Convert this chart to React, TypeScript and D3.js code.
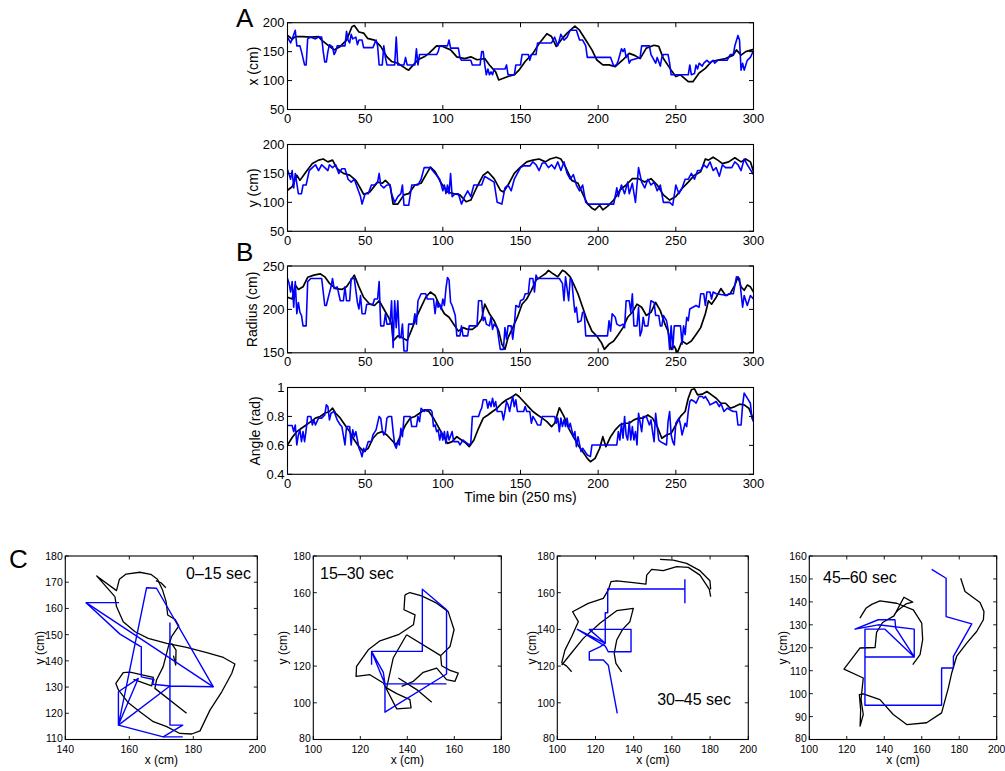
import React from "react";
import * as d3 from "d3";

type P = [number, number];

// ---------- tick values ----------
const TIME_TICKS = [0, 50, 100, 150, 200, 250, 300];
const X_TICKS = [50, 100, 150, 200];
const Y_TICKS = [50, 100, 150, 200];
const RADIUS_TICKS = [150, 200, 250];
const ANGLE_TICKS = [0.4, 0.6, 0.8, 1];

// ---------- panel A: x (cm) ----------
const xBlack: P[] = [[0,178],[1.5,175],[3,171],[5,176],[10,176],[15,175],[20,176],[22,170],[27,159],[30,153],[34,159],[38,170],[41.5,193],[43,195],[46,184],[49,182],[51.5,173],[56,170],[60,159],[64,141],[67,133],[71,130],[76,121],[78,118],[80,124],[84,136],[88,141],[91,147],[96,160],[100,159],[105,153],[109,141],[114,138],[118,141],[122,136],[127,138],[130,127],[134,115],[136,101],[139,104],[142,107],[146,110],[149,118],[153,133],[158,147],[162,164],[167,181],[170,176],[173,159],[177,173],[180,182],[185,194],[188,187],[192,170],[196,153],[199,136],[203,127],[207,127],[211,124],[216,136],[220,147],[223,144],[227,138],[231,156],[236,161],[239,159],[242,138],[247,118],[250,107],[253,110],[258,98],[261,98],[265,113],[269,121],[273,133],[278,136],[282,138],[287,144],[289,153],[292,144],[295,150],[300,154]];
const xBlue: P[] = [[0,175],[2,165],[3,172],[5,187],[6,160],[8,160],[9,150],[11,127],[12,127],[13,172],[15,175],[18,172],[20,175],[22,175],[23,150],[24,132],[25,132],[26,150],[27,162],[29,158],[30,145],[31,150],[32,160],[37,160],[38,185],[39,170],[40,165],[41,180],[42,172],[44,175],[45,162],[46,170],[48,170],[49,157],[55,157],[57,170],[58,160],[59,127],[61,127],[62,160],[63,140],[64,127],[69,127],[70,175],[71,127],[75,127],[76,140],[77,127],[82,127],[83,155],[84,127],[85,145],[96,145],[97,150],[98,160],[103,160],[104,170],[105,156],[110,156],[111,140],[112,135],[118,135],[119,127],[124,127],[125,150],[126,150],[127,127],[128,110],[129,120],[130,110],[131,115],[132,110],[133,120],[140,120],[141,127],[142,110],[146,110],[147,127],[150,127],[151,145],[155,145],[156,135],[157,145],[160,145],[161,165],[170,165],[172,175],[174,160],[176,180],[178,170],[180,175],[182,187],[186,187],[188,170],[190,170],[192,160],[193,140],[208,140],[210,125],[212,128],[213,135],[214,145],[215,155],[216,150],[217,155],[218,140],[219,145],[220,130],[221,135],[227,140],[228,160],[233,160],[234,145],[235,140],[237,130],[238,140],[240,125],[241,140],[242,145],[245,145],[246,130],[247,110],[258,110],[259,127],[260,110],[262,112],[263,127],[264,120],[265,130],[267,125],[268,130],[270,135],[272,130],[274,135],[275,130],[277,135],[283,135],[285,145],[287,145],[288,160],[290,178],[291,170],[292,118],[293,130],[294,118],[296,135],[298,140],[300,152]];

// ---------- panel A: y (cm) ----------
const yBlack: P[] = [[0,121],[3,127],[6,147],[8,138],[12,153],[16,167],[20,173],[23,175],[26,170],[29,173],[32,158],[36,150],[40,147],[44,138],[47,124],[49,114],[53,118],[58,135],[61,133],[63,138],[66,130],[68,97],[71,97],[75,113],[78,115],[82,130],[86,133],[89,147],[92,161],[95,153],[99,133],[103,118],[107,115],[111,113],[115,101],[118,104],[122,127],[126,147],[129,153],[133,141],[137,121],[139,118],[142,130],[146,150],[150,161],[154,170],[158,173],[162,175],[166,170],[169,175],[173,178],[176,175],[179,161],[183,138],[187,133],[190,115],[193,98],[196,90],[198,87],[201,95],[203,87],[206,93],[210,104],[214,121],[218,130],[222,141],[226,141],[230,135],[234,141],[238,130],[242,113],[246,104],[250,110],[254,124],[258,135],[262,147],[266,153],[269,175],[271,173],[274,178],[277,173],[280,167],[284,170],[288,177],[292,170],[295,175],[298,170],[300,153]];
const yBlue: P[] = [[0,157],[2,140],[3,155],[4,125],[5,150],[7,115],[9,115],[10,130],[12,130],[14,155],[16,160],[18,165],[20,155],[22,165],[24,160],[26,155],[27,165],[29,160],[31,165],[33,150],[35,158],[37,158],[39,140],[41,135],[43,140],[45,125],[47,110],[48,97],[50,115],[52,115],[54,130],[56,130],[58,135],[59,150],[60,130],[62,125],[64,130],[66,130],[67,115],[69,100],[71,110],[73,115],[74,130],[75,95],[78,95],[80,130],[84,130],[86,140],[88,160],[92,160],[95,150],[98,140],[100,120],[101,130],[102,115],[103,130],[104,115],[105,150],[106,110],[108,115],[110,115],[112,97],[114,110],[116,120],[118,110],[120,130],[125,130],[127,145],[130,140],[133,135],[135,100],[138,97],[140,125],[142,130],[144,120],[146,140],[148,150],[150,160],[152,163],[156,163],[158,170],[160,165],[162,155],[164,168],[166,168],[168,160],[170,165],[172,158],[174,170],[176,155],[178,170],[180,150],[182,140],[184,148],[186,130],[188,120],[190,130],[192,100],[194,97],[210,97],[212,125],[213,110],[215,130],[217,115],[219,135],[220,115],[222,133],[224,100],[226,160],[228,135],[230,125],[232,140],[234,130],[236,135],[238,120],[240,130],[242,100],[246,100],[248,95],[250,130],[252,115],[254,125],[256,140],[258,140],[260,150],[262,140],[264,155],[266,155],[268,165],[270,160],[272,170],[274,155],[276,160],[278,145],[280,165],[282,160],[286,160],[288,170],[290,165],[292,155],[294,175],[296,165],[300,148]];

// ---------- panel B: radius (cm) ----------
const radiusBlack: P[] = [[0,214],[3,212],[5,228],[7,223],[10,226],[13,237],[17,239.5],[21,241],[24,237.5],[27,230],[31,224],[35,223],[38,226],[41,234],[43,239.5],[46,226],[49,214],[53,206],[56,204.5],[59,210],[62,200.5],[65,191],[67,183],[68,163.6],[71,169.5],[74,167.5],[77,164],[80,177],[83,191],[86,202.5],[89,214],[92,220],[95,216],[98,204.5],[101,195],[104,191],[107,183],[110,175],[113,179],[116,177],[119,177],[122,181],[125,189],[127,206],[130,195],[133,187],[136,175],[138,160],[140,154],[142,167.5],[145,179],[148,191],[151,206],[154,212],[157,222],[160,233.7],[163,237.5],[166,241],[168,245],[171,241],[174,237.5],[177,245],[179,243],[182,237.5],[184,230],[187,218],[190,202.5],[193,187],[196,175],[199,169.5],[202,162],[204,154],[207,160],[210,163.6],[213,171],[216,179],[219,191],[222,196.7],[225,206],[228,202.5],[231,193],[234,196.7],[237,208],[240,198.6],[243,183],[245,175],[247,154],[249,157.8],[251,150],[254,163.6],[257,160],[260,163.6],[263,171],[266,179],[269,195],[271,210],[273,206],[276,214],[279,224],[282,216],[285,218],[288,228],[290,237.5],[292,226],[294,222],[296,228],[298,226],[300,220]];
const radiusBlue: P[] = [[0,235.6],[1,230],[2,220],[3,232],[4,202.5],[5,232],[6,195],[7,208],[8,196.7],[9,193],[10,181],[12,181],[13,232],[15,235.6],[22,235.6],[24,204.5],[25,204.5],[26,212],[28,226],[29,235.6],[30,224],[32,226],[34,210],[36,210],[37,226],[38,210],[40,210],[41,235.6],[43,235.6],[44,222],[45,208],[46,200.5],[47,216],[48,195],[50,195],[51,206],[55,206],[56,212],[58,212],[59,232],[60,181],[62,181],[63,195],[64,183],[66,183],[67,210],[68,156],[69,210],[70,179],[71,210],[72,167.5],[73,167.5],[74,183],[75,152],[77,152],[78,183],[81,183],[82,195],[83,183],[84,210],[86,218],[89,218],[90,212],[94,212],[95,195],[96,210],[97,202.5],[98,206],[99,200],[100,212],[101,204.5],[102,224],[103,236.8],[104,233.7],[105,208],[106,204.5],[108,193],[109,169.5],[111,169.5],[112,181],[113,169.5],[116,169.5],[117,181],[122,181],[123,210],[125,210],[126,187],[127,191],[128,183],[130,181],[131,191],[132,177],[133,183],[135,179],[136,165.6],[137,154],[139,154],[140,179],[141,165.6],[142,181],[144,181],[145,165.6],[146,181],[147,204.5],[149,202.5],[150,210],[152,212],[153,218],[155,218],[156,235.6],[158,235.6],[159,220],[160,239.5],[161,235.6],[175,235.6],[177,230],[178,210],[179,237.5],[181,210],[182,235.6],[183,233.7],[184,214],[185,196.7],[186,202.5],[187,185],[189,187],[190,196.7],[191,196.7],[192,169.5],[206,169.5],[207,187],[208,175],[209,195],[211,191],[212,183],[214,181],[216,183],[217,179],[218,210],[220,210],[221,196.7],[222,218],[223,181],[225,181],[226,202.5],[227,169.5],[228,175],[229,191],[230,181],[232,181],[234,210],[236,208],[237,193],[239,193],[240,181],[241,181],[242,193],[244,187],[245,177],[246,154],[247,181],[248,154],[249,181],[253,181],[254,160],[255,181],[256,171],[257,191],[258,187],[259,200.5],[261,202.5],[263,204.5],[265,202.5],[266,218],[268,218],[269,204.5],[270,220],[272,220],[273,212],[274,220],[276,218],[283,216],[284,218],[287,218],[289,237.5],[291,235.6],[293,202.5],[294,216],[296,204.5],[298,216],[300,212]];

// ---------- panel B: angle (rad) ----------
const angleBlack: P[] = [[0,0.603],[3,0.654],[6,0.695],[9,0.718],[12,0.741],[15,0.764],[18,0.788],[21,0.8],[24,0.822],[27,0.834],[29,0.857],[31,0.822],[34,0.788],[37,0.741],[40,0.695],[43,0.637],[46,0.591],[49,0.557],[52,0.58],[55,0.649],[58,0.684],[61,0.695],[64,0.672],[67,0.637],[70,0.603],[73,0.672],[76,0.741],[79,0.788],[82,0.8],[85,0.822],[88,0.845],[91,0.834],[94,0.788],[97,0.73],[100,0.672],[103,0.614],[106,0.626],[109,0.66],[112,0.637],[115,0.614],[117,0.591],[120,0.637],[123,0.718],[126,0.788],[129,0.81],[132,0.834],[135,0.857],[138,0.891],[141,0.915],[143,0.926],[145,0.938],[147,0.954],[149,0.938],[152,0.903],[155,0.868],[158,0.834],[161,0.81],[164,0.788],[167,0.764],[170,0.73],[172,0.753],[175,0.86],[178,0.8],[181,0.718],[184,0.66],[187,0.603],[190,0.557],[193,0.51],[195,0.487],[198,0.51],[201,0.58],[203,0.66],[205,0.591],[208,0.66],[211,0.707],[214,0.741],[217,0.753],[220,0.753],[223,0.776],[226,0.788],[229,0.788],[232,0.81],[235,0.788],[238,0.73],[241,0.649],[244,0.672],[247,0.684],[250,0.741],[253,0.8],[256,0.834],[258,0.926],[260,0.984],[262,0.991],[264,0.949],[267,0.954],[270,0.972],[273,0.949],[276,0.926],[279,0.891],[282,0.891],[285,0.857],[288,0.868],[291,0.885],[294,0.88],[297,0.857],[300,0.776]];
const angleBlue: P[] = [[0,0.737],[3,0.737],[4,0.695],[5,0.741],[6,0.603],[7,0.672],[8,0.707],[9,0.626],[10,0.695],[11,0.626],[12,0.707],[13,0.8],[15,0.8],[16,0.741],[17,0.776],[18,0.741],[20,0.788],[22,0.788],[24,0.811],[25,0.88],[26,0.868],[27,0.776],[28,0.822],[30,0.834],[32,0.776],[34,0.741],[35,0.73],[37,0.603],[38,0.73],[40,0.73],[41,0.603],[42,0.707],[43,0.66],[44,0.695],[46,0.58],[47,0.557],[48,0.522],[49,0.58],[50,0.557],[52,0.626],[54,0.626],[55,0.672],[57,0.707],[59,0.8],[60,0.788],[61,0.707],[62,0.672],[63,0.695],[64,0.788],[65,0.8],[67,0.8],[68,0.695],[69,0.603],[70,0.58],[71,0.626],[72,0.603],[73,0.718],[74,0.66],[75,0.8],[79,0.8],[80,0.73],[83,0.73],[84,0.8],[85,0.764],[86,0.857],[88,0.834],[89,0.845],[92,0.845],[93,0.834],[94,0.73],[95,0.741],[96,0.695],[97,0.707],[98,0.637],[99,0.695],[100,0.637],[101,0.695],[102,0.614],[103,0.695],[104,0.637],[106,0.695],[107,0.626],[110,0.626],[111,0.603],[113,0.637],[117,0.603],[118,0.614],[119,0.8],[123,0.8],[124,0.834],[125,0.857],[126,0.915],[128,0.915],[129,0.857],[130,0.903],[131,0.868],[132,0.926],[133,0.868],[134,0.903],[135,0.834],[138,0.834],[139,0.776],[140,0.834],[141,0.903],[142,0.88],[143,0.834],[144,0.891],[145,0.938],[146,0.868],[147,0.915],[148,0.834],[152,0.834],[153,0.868],[154,0.834],[156,0.834],[157,0.753],[158,0.8],[160,0.764],[161,0.741],[163,0.741],[164,0.8],[172,0.8],[173,0.753],[174,0.788],[175,0.695],[176,0.788],[177,0.73],[178,0.776],[179,0.73],[180,0.788],[181,0.718],[182,0.753],[184,0.66],[185,0.695],[186,0.591],[187,0.66],[189,0.557],[190,0.58],[193,0.533],[195,0.522],[196,0.603],[212,0.603],[213,0.695],[214,0.637],[215,0.753],[216,0.649],[217,0.8],[218,0.672],[219,0.637],[220,0.764],[221,0.637],[222,0.73],[223,0.637],[224,0.695],[225,0.603],[226,0.822],[228,0.695],[229,0.8],[231,0.8],[233,0.741],[234,0.776],[235,0.695],[236,0.626],[237,0.822],[239,0.637],[240,0.626],[244,0.603],[245,0.764],[246,0.834],[247,0.672],[248,0.626],[249,0.603],[250,0.753],[252,0.788],[253,0.741],[254,0.672],[256,0.753],[257,0.73],[258,0.834],[259,0.903],[260,0.915],[262,0.903],[263,0.891],[265,0.938],[267,0.938],[268,0.926],[269,0.938],[271,0.903],[272,0.88],[274,0.891],[276,0.903],[278,0.868],[279,0.891],[281,0.834],[283,0.857],[285,0.845],[287,0.834],[289,0.834],[290,0.741],[292,0.741],[293,0.88],[294,0.961],[296,0.926],[298,0.891],[299,0.788],[300,0.764]];

// ---------- panel C: trajectories (x cm, y cm) ----------
const c1Black: P[][] = [
  [[155.5,164.5],[149.8,172.4],[156.0,166.8],[156.9,171.1],[159.0,173.1],[163.3,173.8],[166.7,173.0],[168.8,171.1],[170.4,167.0],[171.5,162.6],[172.0,157.5],[174.3,155.8],[175.5,153.3],[173.2,149.2],[172.2,145.4],[170.6,137.8],[168.5,132.7],[168.0,129.5],[177.9,120.0]],
  [[155.5,164.5],[156.0,160.7],[158.1,154.9],[161.8,151.1],[165.9,148.6],[171.7,146.7],[177.9,145.1],[184.2,143.1],[189.4,141.3],[193.0,138.8],[192.0,135.2],[188.9,128.2],[185.2,121.2],[182.1,113.3],[179.5,112.1],[175.8,112.3],[171.7,114.9],[167.5,116.8],[163.3,120.6],[159.7,124.0],[156.6,128.9],[155.8,131.4],[158.1,135.5],[160.2,135.7],[167.5,133.7],[167.0,130.5],[161.3,132.9]],
  [[173.2,146.7],[174.6,144.1],[174.5,138.4],[173.8,142.0]],
  [[168.3,170.6],[169.9,169.8],[171.4,167.9]],
];
const c1Blue: P[][] = [
  [[156.8,162.2],[146.5,162.2],[157.1,150.2],[163.3,145.6],[163.75,145.4],[163.75,133.9],[167.7,132.9],[167.3,131.1],[172.7,130.4],[186.25,130.1],[168.5,167.7],[165.4,167.9],[156.6,115.5],[156.6,128.2],[162.8,133.3],[156.6,115.5],[170.6,111.0],[176.7,115.5],[172.7,115.5],[172.7,154.6]],
  [[146.5,162.2],[186.25,130.1]],
  [[170.6,111.0],[176.7,111.0]],
  [[156.6,115.5],[172.7,130.4]],
];
const c2Black: P[][] = [
  [[139.0,158.8],[141.1,160.1],[146.1,158.3],[152.5,154.3],[157.4,149.7],[159.9,139.8],[158.2,130.7],[154.2,125.7],[154.6,120.2],[158.2,117.7],[161.7,116.2],[160.3,111.7],[156.7,112.6],[152.5,118.9],[146.8,116.6],[142.6,111.7],[137.6,109.0]],
  [[139.7,137.1],[154.2,125.7]],
  [[139.7,137.1],[134.0,124.4],[132.6,116.2],[131.2,108.1],[135.5,105.0],[141.1,101.7],[141.6,97.2],[135.5,96.7],[129.8,110.8],[124.1,115.3],[118.2,114.4],[118.4,119.9],[123.4,128.9],[128.4,133.8],[136.2,137.1],[142.6,142.5],[143.3,147.9],[138.6,150.7],[139.0,158.8]],
  [[136.2,113.5],[144.0,107.2],[150.4,100.3]],
];
const c2Blue: P[][] = [
  [[124.8,120.8],[124.8,128.0],[146.4,128.0],[146.4,161.9],[156.7,150.7],[156.7,115.7],[130.5,94.9],[130.5,110.3],[124.8,128.0],[129.8,116.6],[130.5,110.3],[156.7,110.3]],
];
const c3Black: P[][] = [
  [[153.8,178.2],[160.7,177.8],[167.7,176.0],[174.7,172.0],[179.9,166.5],[180.3,161.8]],
  [[180.3,157.8],[179.6,161.8],[174.7,169.6],[168.6,173.8],[162.5,174.2],[155.5,172.0],[149.4,172.7],[146.8,169.6],[146.4,164.7],[139.8,165.5],[131.1,166.5],[128.1,166.0],[126.7,161.5],[124.1,156.9],[116.2,154.2],[108.0,149.6],[111.0,144.2],[107.5,136.0],[104.0,128.7],[102.3,121.8],[104.9,120.0],[107.5,116.9]],
  [[102.3,120.5],[105.8,125.1],[113.6,135.1],[122.3,143.3],[131.1,150.2],[139.8,151.5],[138.0,144.2],[134.2,140.0],[131.1,134.2],[129.8,126.9],[130.7,121.5],[133.7,116.9]],
];
const c3Blue: P[][] = [
  [[166.8,167.3],[166.8,154.2]],
  [[166.8,162.0],[126.4,162.0],[126.4,149.1],[125.1,149.1],[125.1,132.4],[110.5,140.0],[125.1,130.9],[126.7,127.8],[138.6,127.8],[138.6,140.0],[116.75,140.0],[125.1,132.4],[122.3,130.5],[116.75,127.8],[116.75,123.3],[124.1,123.3],[126.7,120.5],[131.4,94.2]],
];
const c4Black: P[][] = [
  [[180.8,150.3],[183.1,144.5],[191.1,139.7],[193.2,135.8],[192.9,132.2],[189.3,127.1],[184.0,122.0],[178.6,116.2],[176.0,109.0],[174.2,102.5],[170.6,91.6],[162.6,87.3],[152.0,86.5],[144.8,90.9],[137.7,97.4],[128.8,99.9],[126.7,99.6],[127.4,93.0],[127.1,85.8],[128.8,90.9],[127.6,97.4],[128.8,106.8],[118.5,110.7],[127.1,119.9],[135.1,120.1],[135.9,126.7],[139.1,131.0],[145.2,133.9],[150.5,142.0],[155.2,139.9],[151.6,139.1],[147.5,136.5],[145.2,134.3]],
  [[127.0,132.9],[130.2,137.2],[133.3,138.9],[137.7,140.4],[146.6,139.4],[155.5,136.5],[160.0,130.7],[160.5,123.5],[159.1,117.0],[155.2,112.6]],
];
const c4Blue: P[][] = [
  [[165.3,154.2],[173.0,150.3],[173.0,133.6],[186.7,130.4],[176.9,116.2],[176.9,111.2],[170.6,111.2],[170.6,94.9],[129.7,94.9],[129.7,116.0],[156.0,116.0],[156.0,128.1],[136.8,130.0],[124.4,128.1],[136.8,132.2],[145.7,132.2],[146.1,128.6],[156.0,116.0],[140.4,128.1],[129.7,128.1],[129.7,116.0]],
];

const C1_X_TICKS = [140, 160, 180, 200];
const C1_Y_TICKS = [110, 120, 130, 140, 150, 160, 170, 180];
const C2_X_TICKS = [100, 120, 140, 160, 180];
const C2_Y_TICKS = [80, 100, 120, 140, 160, 180];
const C3_X_TICKS = [100, 120, 140, 160, 180, 200];
const C3_Y_TICKS = [80, 100, 120, 140, 160, 180];
const C4_X_TICKS = [100, 120, 140, 160, 180, 200];
const C4_Y_TICKS = [80, 90, 100, 110, 120, 130, 140, 150, 160];
const C_TITLES = ["0\u201315 sec", "15\u201330 sec", "30\u201345 sec", "45\u201360 sec"];

// ---------- layout ----------
const FONT = "'Liberation Sans', Arial, Helvetica, sans-serif";
const BLUE = "#0000ff";
const TS_LEFT = 287.5;
const TS_RIGHT = 753.5;
const TS_H = 86.8;

interface TSProps {
  id: string;
  top: number;
  domain: [number, number];
  ticks: number[];
  black: P[];
  blue: P[];
  label: string;
  labelX: number;
}

function TimePanel({ id, top, domain, ticks, black, blue, label, labelX }: TSProps) {
  const x = d3.scaleLinear().domain([0, 300]).range([TS_LEFT, TS_RIGHT]);
  const y = d3.scaleLinear().domain(domain).range([top + TS_H, top]);
  const line = d3.line<P>().x((d) => x(d[0])).y((d) => y(d[1]));
  const bottom = top + TS_H;
  const tl = 4.5;
  return (
    <g>
      <clipPath id={`clip-${id}`}>
        <rect x={TS_LEFT} y={top} width={TS_RIGHT - TS_LEFT} height={TS_H} />
      </clipPath>
      <g clipPath={`url(#clip-${id})`}>
        <path d={line(black) || ""} fill="none" stroke="#000" strokeWidth={1.7} strokeLinejoin="round" />
        <path d={line(blue) || ""} fill="none" stroke={BLUE} strokeWidth={1.6} strokeLinejoin="round" />
      </g>
      <rect x={TS_LEFT} y={top} width={TS_RIGHT - TS_LEFT} height={TS_H} fill="none" stroke="#000" strokeWidth={1.1} />
      {TIME_TICKS.map((t) => (
        <g key={`xt${t}`}>
          <line x1={x(t)} x2={x(t)} y1={bottom} y2={bottom - tl} stroke="#000" strokeWidth={1} />
          <line x1={x(t)} x2={x(t)} y1={top} y2={top + tl} stroke="#000" strokeWidth={1} />
          <text x={x(t)} y={bottom + 9} textAnchor="middle" dominantBaseline="central" fontSize={13}>
            {t}
          </text>
        </g>
      ))}
      {ticks.map((v) => (
        <g key={`yt${v}`}>
          <line x1={TS_LEFT} x2={TS_LEFT + tl} y1={y(v)} y2={y(v)} stroke="#000" strokeWidth={1} />
          <line x1={TS_RIGHT} x2={TS_RIGHT - tl} y1={y(v)} y2={y(v)} stroke="#000" strokeWidth={1} />
          <text x={TS_LEFT - 3} y={y(v)} textAnchor="end" dominantBaseline="central" fontSize={13}>
            {String(v)}
          </text>
        </g>
      ))}
      <text
        transform={`translate(${labelX},${top + TS_H / 2}) rotate(-90)`}
        textAnchor="middle"
        dominantBaseline="central"
        fontSize={14}
      >
        {label}
      </text>
    </g>
  );
}

interface TrajProps {
  id: string;
  left: number;
  right: number;
  xDomain: [number, number];
  yDomain: [number, number];
  xTicks: number[];
  yTicks: number[];
  black: P[][];
  blue: P[][];
  title: string;
  tx: number;
  ty: number;
  anchor: "start" | "end";
  ylabX: number;
}

const C_TOP = 556;
const C_BOTTOM = 739.5;

function TrajPanel(p: TrajProps) {
  const x = d3.scaleLinear().domain(p.xDomain).range([p.left, p.right]);
  const y = d3.scaleLinear().domain(p.yDomain).range([C_BOTTOM, C_TOP]);
  const line = d3.line<P>().x((d) => x(d[0])).y((d) => y(d[1]));
  const tl = 3.5;
  return (
    <g>
      <clipPath id={`clip-${p.id}`}>
        <rect x={p.left} y={C_TOP} width={p.right - p.left} height={C_BOTTOM - C_TOP} />
      </clipPath>
      <g clipPath={`url(#clip-${p.id})`}>
        {p.black.map((s, i) => (
          <path key={`b${i}`} d={line(s) || ""} fill="none" stroke="#000" strokeWidth={1.3} strokeLinejoin="round" />
        ))}
        {p.blue.map((s, i) => (
          <path key={`u${i}`} d={line(s) || ""} fill="none" stroke={BLUE} strokeWidth={1.4} strokeLinejoin="round" />
        ))}
      </g>
      <rect x={p.left} y={C_TOP} width={p.right - p.left} height={C_BOTTOM - C_TOP} fill="none" stroke="#000" strokeWidth={1.1} />
      {p.xTicks.map((t) => (
        <g key={`xt${t}`}>
          <line x1={x(t)} x2={x(t)} y1={C_BOTTOM} y2={C_BOTTOM - tl} stroke="#000" strokeWidth={0.9} />
          <line x1={x(t)} x2={x(t)} y1={C_TOP} y2={C_TOP + tl} stroke="#000" strokeWidth={0.9} />
          <text x={x(t)} y={C_BOTTOM + 9} textAnchor="middle" dominantBaseline="central" fontSize={10.5}>
            {t}
          </text>
        </g>
      ))}
      {p.yTicks.map((v) => (
        <g key={`yt${v}`}>
          <line x1={p.left} x2={p.left + tl} y1={y(v)} y2={y(v)} stroke="#000" strokeWidth={0.9} />
          <line x1={p.right} x2={p.right - tl} y1={y(v)} y2={y(v)} stroke="#000" strokeWidth={0.9} />
          <text x={p.left - 2.5} y={y(v) - (v === p.yDomain[0] ? 2 : 0)} textAnchor="end" dominantBaseline="central" fontSize={10.5}>
            {v}
          </text>
        </g>
      ))}
      <text x={(p.left + p.right) / 2} y={760} textAnchor="middle" dominantBaseline="central" fontSize={12}>
        x (cm)
      </text>
      <text
        transform={`translate(${p.ylabX},${(C_TOP + C_BOTTOM) / 2}) rotate(-90)`}
        textAnchor="middle"
        dominantBaseline="central"
        fontSize={12}
      >
        y (cm)
      </text>
      <text x={p.tx} y={p.ty} textAnchor={p.anchor} fontSize={16}>
        {p.title}
      </text>
    </g>
  );
}

export default function App() {
  return (
    <svg
      width={1005}
      height={771}
      viewBox="0 0 1005 771"
      style={{ position: "absolute", left: 0, top: 0, background: "#fff" }}
      fontFamily={FONT}
    >
      <rect x={0} y={0} width={1005} height={771} fill="#fff" />
      <text x={236} y={26.5} fontSize={26}>A</text>
      <text x={236} y={261} fontSize={26}>B</text>
      <text x={9} y={568} fontSize={26}>C</text>

      <TimePanel id="px" top={22.7} domain={[50, 200]} ticks={X_TICKS} black={xBlack} blue={xBlue} label="x (cm)" labelX={253} />
      <TimePanel id="py" top={144.5} domain={[50, 200]} ticks={Y_TICKS} black={yBlack} blue={yBlue} label="y (cm)" labelX={253} />
      <TimePanel id="pr" top={266} domain={[150, 250]} ticks={RADIUS_TICKS} black={radiusBlack} blue={radiusBlue} label="Radius (cm)" labelX={252} />
      <TimePanel id="pa" top={387.5} domain={[0.4, 1]} ticks={ANGLE_TICKS} black={angleBlack} blue={angleBlue} label="Angle (rad)" labelX={255} />
      <text x={(TS_LEFT + TS_RIGHT) / 2} y={497} textAnchor="middle" dominantBaseline="central" fontSize={14}>
        Time bin (250 ms)
      </text>

      <TrajPanel id="c1" left={65.3} right={257.3} xDomain={[140, 200]} yDomain={[110, 180]} xTicks={C1_X_TICKS} yTicks={C1_Y_TICKS}
        black={c1Black} blue={c1Blue} title={C_TITLES[0]} tx={251} ty={579} anchor="end" ylabX={40} />
      <TrajPanel id="c2" left={313.3} right={501.3} xDomain={[100, 180]} yDomain={[80, 180]} xTicks={C2_X_TICKS} yTicks={C2_Y_TICKS}
        black={c2Black} blue={c2Blue} title={C_TITLES[1]} tx={320} ty={579} anchor="start" ylabX={283} />
      <TrajPanel id="c3" left={557.3} right={748.3} xDomain={[100, 200]} yDomain={[80, 180]} xTicks={C3_X_TICKS} yTicks={C3_Y_TICKS}
        black={c3Black} blue={c3Blue} title={C_TITLES[2]} tx={731} ty={705} anchor="end" ylabX={532} />
      <TrajPanel id="c4" left={809.3} right={996.7} xDomain={[100, 200]} yDomain={[80, 160]} xTicks={C4_X_TICKS} yTicks={C4_Y_TICKS}
        black={c4Black} blue={c4Blue} title={C_TITLES[3]} tx={823} ty={583} anchor="start" ylabX={783} />
    </svg>
  );
}
